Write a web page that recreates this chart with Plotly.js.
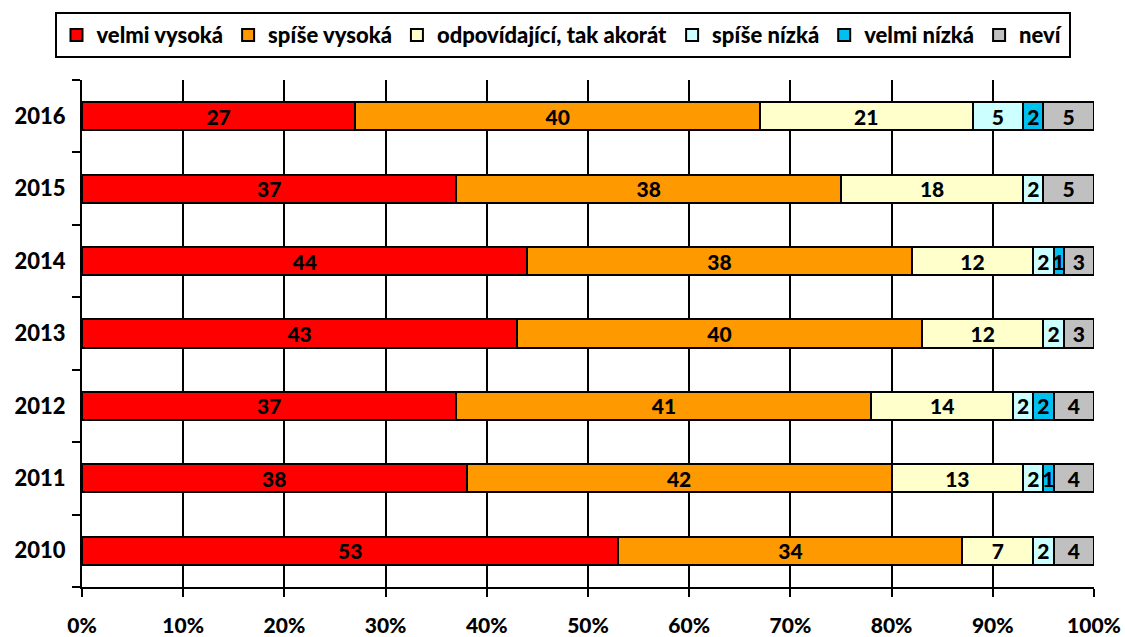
<!DOCTYPE html>
<html>
<head>
<meta charset="utf-8">
<script src="https://cdn.plot.ly/plotly-3.0.1.min.js"></script>
<style>html,body{margin:0;padding:0;background:#fff;}#chart{width:1125px;height:637px;}</style>
</head>
<body>
<div id="chart"></div>
<script>
const years = ['2010','2011','2012','2013','2014','2015','2016'];
const seriesNames = ['velmi vysoká','spíše vysoká','odpovídající, tak akorát','spíše nízká','velmi nízká','neví'];
const velmiVysoka = [53,38,37,43,44,37,27];
const spiseVysoka = [34,42,41,40,38,38,40];
const odpovidajici = [7,13,14,12,12,18,21];
const spiseNizka = [2,2,2,2,2,2,5];
const velmiNizka = [0,1,2,0,1,0,2];
const nevi = [4,4,4,3,3,5,5];
const colors = ['#FF0000','#FF9900','#FFFFCC','#CCFFFF','#00C0F0','#C0C0C0'];
const xTicks = [0,10,20,30,40,50,60,70,80,90,100];

const allSeries = [velmiVysoka, spiseVysoka, odpovidajici, spiseNizka, velmiNizka, nevi];
const FONT = 'Lato, "Open Sans", sans-serif';
const W = 900;

const traces = allSeries.map((vals, i) => ({
  type: 'bar',
  orientation: 'h',
  name: seriesNames[i],
  y: years,
  x: vals,
  text: vals.map(v => v > 0 ? String(v) : ''),
  textposition: 'inside',
  insidetextanchor: 'middle',
  textangle: 0,
  constraintext: 'none',
  cliponaxis: false,
  textfont: {family: FONT, size: 21, color: '#000', weight: W},
  marker: {color: colors[i], line: {color: '#000', width: 2}},
  hoverinfo: 'skip'
}));

const layout = {
  width: 1125, height: 637,
  barmode: 'stack',
  bargap: 0.61,
  margin: {l: 82, r: 31, t: 80, b: 50},
  paper_bgcolor: '#fff', plot_bgcolor: '#fff',
  font: {family: FONT, size: 21, color: '#000', weight: W},
  showlegend: true,
  legend: {
    orientation: 'h',
    xref: 'container', yref: 'container',
    x: 0.5, xanchor: 'center',
    y: 0.981, yanchor: 'top',
    bordercolor: '#000', borderwidth: 2,
    font: {family: FONT, size: 22, color: '#000', weight: W},
    traceorder: 'normal',
    itemwidth: 30
  },
  xaxis: {
    range: [0, 100],
    tickvals: xTicks,
    ticktext: xTicks.map(t => t + '%'),
    showgrid: true, gridcolor: '#000', gridwidth: 2,
    zeroline: false,
    showline: true, linecolor: '#000', linewidth: 2,
    ticks: 'outside', ticklen: 8, tickwidth: 2, tickcolor: '#000',
    ticklabelstandoff: 11,
    tickfont: {family: FONT, size: 21, color: '#000', weight: W},
    fixedrange: true
  },
  yaxis: {
    type: 'category',
    categoryorder: 'array', categoryarray: years,
    showline: true, linecolor: '#000', linewidth: 2,
    ticks: 'outside', ticklen: 8, tickwidth: 2, tickcolor: '#000',
    tickson: 'boundaries',
    showgrid: false, zeroline: false,
    ticklabelstandoff: 10,
    tickfont: {family: FONT, size: 22, color: '#000', weight: W},
    fixedrange: true
  }
};

Plotly.newPlot('chart', traces, layout, {displayModeBar: false, staticPlot: true});
</script>
</body>
</html>
